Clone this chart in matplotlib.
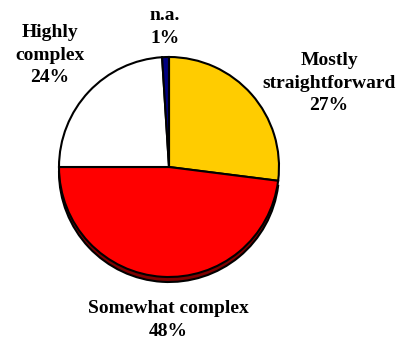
import matplotlib.pyplot as plt
from matplotlib.patches import Wedge

# share of respondents per rating
labels = ['Mostly\nstraightforward', 'Somewhat complex', 'Highly\ncomplex', 'n.a.']
values = [27, 48, 24, 1]
colors = ['#FFCC00', '#FF0000', '#FFFFFF', '#000080']

# label anchor points in pixels (x, y from top)
label_pos = [(329, 83), (168, 320), (50, 55), (165, 27)]

W, H = 402, 345
fig = plt.figure(figsize=(W / 100, H / 100), dpi=100)
ax = fig.add_axes([0, 0, 1, 1])

cx, cy, r = 169, H - 167, 110

# thin dark rim under the red slice to fake a bit of depth
start = 90 - values[0] / sum(values) * 360
end = start - values[1] / sum(values) * 360
ax.add_patch(Wedge((cx, cy - 5), r, end, start, facecolor='#800000',
                   edgecolor='black', linewidth=1.5, zorder=1))

wedges, _ = ax.pie(values, colors=colors, startangle=90, counterclock=False,
                   radius=r, center=(cx, cy),
                   wedgeprops=dict(edgecolor='black', linewidth=1.5, zorder=2))
ax.set_xlim(0, W)
ax.set_ylim(0, H)
ax.set_aspect('equal')
ax.axis('off')

for lab, v, (x, y) in zip(labels, values, label_pos):
    ax.text(x, H - y, f'{lab}\n{v}%', ha='center', va='center',
            fontsize=14, fontweight='bold', family='Liberation Serif',
            linespacing=1.45)

fig.savefig('out.png', dpi=100)
